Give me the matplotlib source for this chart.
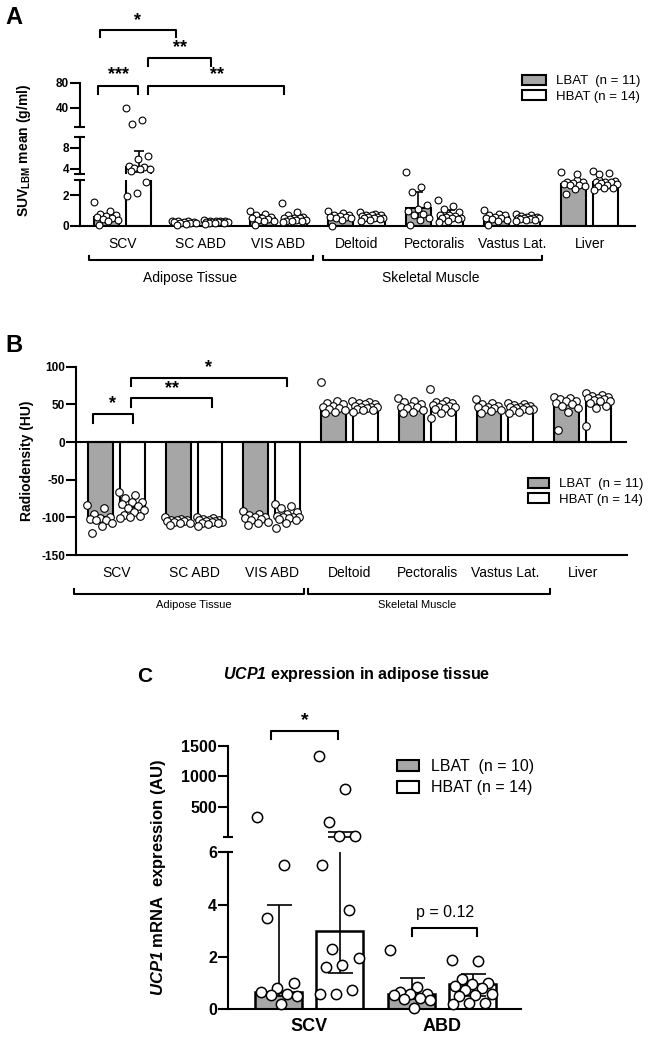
import numpy as np
import matplotlib.pyplot as plt
from matplotlib.patches import Patch
from matplotlib.transforms import blended_transform_factory

plt.rcParams['font.family'] = ['Liberation Sans', 'DejaVu Sans']
plt.rcParams['axes.unicode_minus'] = False
plt.rcParams['mathtext.fontset'] = 'custom'
plt.rcParams['mathtext.rm'] = 'Liberation Sans:bold'
plt.rcParams['mathtext.bf'] = 'Liberation Sans:bold'
plt.rcParams['mathtext.sf'] = 'Liberation Sans:italic:bold'

W, H = 663, 1045
GRAY = '#a6a6a6'

# --- Panel A: SUV_LBM mean (median + IQR) ---
tissues = ["SCV", "SC ABD", "VIS ABD", "Deltoid", "Pectoralis", "Vastus Lat.", "Liver"]
suv_lbat_med = [0.6, 0.25, 0.52, 0.6, 1.2, 0.58, 2.72]
suv_hbat_med = [4.3, 0.27, 0.55, 0.62, 0.62, 0.55, 2.85]
suv_lbat_q1 = [0.4, 0.2, 0.35, 0.5, 0.5, 0.4, 2.6]
suv_lbat_q3 = [0.8, 0.3, 0.7, 0.75, 2.25, 0.75, 2.9]
suv_hbat_q1 = [3.4, 0.22, 0.35, 0.5, 0.45, 0.45, 2.6]
suv_hbat_q3 = [7.4, 0.31, 0.6, 0.72, 1.05, 0.6, 2.95]
suv_lbat_pts = [
    [1.55, 0.95, 0.8, 0.75, 0.65, 0.6, 0.5, 0.45, 0.4, 0.3, 0.05],
    [0.35, 0.3, 0.3, 0.28, 0.25, 0.25, 0.22, 0.2, 0.18, 0.15, 0.05],
    [1.0, 0.8, 0.7, 0.6, 0.55, 0.5, 0.45, 0.4, 0.35, 0.3, 0.05],
    [0.95, 0.85, 0.75, 0.7, 0.65, 0.6, 0.6, 0.55, 0.5, 0.4, 0.0],
    [3.3, 2.55, 2.25, 1.35, 1.1, 1.0, 0.8, 0.7, 0.5, 0.4, 0.05],
    [1.05, 0.8, 0.75, 0.7, 0.6, 0.55, 0.5, 0.45, 0.4, 0.35, 0.05],
    [3.3, 3.0, 2.9, 2.85, 2.8, 2.75, 2.7, 2.65, 2.6, 2.4, 2.1],
]
suv_hbat_pts = [
    [40, 20, 15, 6.4, 5.8, 4.6, 4.4, 4.2, 4.0, 3.9, 3.6, 2.9, 2.15, 1.95],
    [0.4, 0.35, 0.32, 0.3, 0.3, 0.28, 0.27, 0.26, 0.25, 0.24, 0.22, 0.2, 0.18, 0.15],
    [1.5, 0.9, 0.7, 0.6, 0.55, 0.5, 0.5, 0.45, 0.4, 0.4, 0.35, 0.3, 0.3, 0.25],
    [0.9, 0.8, 0.75, 0.7, 0.7, 0.65, 0.6, 0.6, 0.55, 0.5, 0.5, 0.45, 0.4, 0.3],
    [1.7, 1.3, 1.1, 0.9, 0.75, 0.7, 0.65, 0.6, 0.55, 0.5, 0.5, 0.45, 0.3, 0.25],
    [0.8, 0.7, 0.65, 0.6, 0.6, 0.55, 0.55, 0.5, 0.5, 0.45, 0.45, 0.4, 0.4, 0.35],
    [3.5, 3.1, 3.0, 2.95, 2.9, 2.9, 2.85, 2.8, 2.75, 2.7, 2.6, 2.5, 2.45, 2.35],
]

# --- Panel B: radiodensity (HU) ---
hu_lbat_med = [-99, -103, -101, 41, 43, 44, 50]
hu_hbat_med = [-86, -104, -99, 41, 47, 43, 54]
hu_lbat_pts = [
    [-84, -88, -95, -100, -101, -102, -103, -104, -108, -112, -121],
    [-100, -102, -103, -104, -104, -105, -105, -106, -107, -108, -110],
    [-92, -95, -97, -99, -100, -101, -102, -104, -106, -108, -110],
    [80, 55, 52, 50, 48, 47, 45, 44, 42, 40, 38],
    [58, 55, 53, 50, 48, 47, 46, 45, 42, 40, 38],
    [57, 52, 50, 48, 47, 46, 45, 44, 43, 41, 38],
    [60, 58, 57, 55, 54, 52, 50, 48, 45, 40, 16],
]
hu_hbat_pts = [
    [-66, -70, -74, -79, -80, -82, -85, -88, -90, -93, -97, -98, -100, -101],
    [-99, -101, -102, -103, -104, -104, -105, -105, -106, -106, -107, -108, -109, -112],
    [-82, -85, -88, -93, -96, -98, -99, -100, -100, -101, -102, -104, -108, -114],
    [55, 53, 52, 50, 50, 48, 47, 46, 46, 45, 44, 43, 42, 40],
    [70, 55, 53, 52, 50, 49, 48, 47, 46, 45, 44, 40, 39, 32],
    [52, 50, 49, 48, 47, 46, 46, 45, 44, 44, 43, 42, 40, 38],
    [65, 62, 61, 60, 59, 58, 57, 56, 55, 54, 52, 48, 45, 21],
]

# --- Panel C: UCP1 expression (median + IQR) ---
ucp1_groups = ["SCV", "ABD"]
ucp1_lbat_med = [0.65, 0.57]
ucp1_hbat_med = [3.0, 0.95]
ucp1_lbat_q1 = [0.5, 0.4]
ucp1_lbat_q3 = [4.0, 1.18]
ucp1_hbat_q1 = [1.4, 0.5]
ucp1_hbat_q3 = [85, 1.34]
ucp1_lbat_pts = [
    [330, 5.5, 3.5, 1.0, 0.8, 0.65, 0.6, 0.55, 0.5, 0.2],
    [2.25, 0.85, 0.65, 0.6, 0.6, 0.55, 0.45, 0.4, 0.35, 0.05],
]
ucp1_hbat_pts = [
    [1340, 785, 255, 20, 15, 5.5, 3.8, 2.3, 1.95, 1.7, 1.6, 0.75, 0.6, 0.6],
    [1.9, 1.85, 1.15, 1.0, 0.95, 0.9, 0.8, 0.75, 0.6, 0.55, 0.5, 0.25, 0.25, 0.2],
]

fig = plt.figure(figsize=(W / 100, H / 100), dpi=100)


def fy(py):
    return 1 - py / H


def px_axes(left, top, right, bottom):
    return fig.add_axes([left / W, 1 - bottom / H, (right - left) / W, (bottom - top) / H])


def style_seg(ax, ticks, size, bottom=False, tick_len=7):
    for s in ['top', 'right']:
        ax.spines[s].set_visible(False)
    ax.spines['bottom'].set_visible(bottom)
    ax.spines['left'].set_linewidth(1.5)
    ax.spines['bottom'].set_linewidth(1.5)
    ax.set_yticks(ticks, labels=[str(t) for t in ticks], fontsize=size, fontweight='bold')
    ax.tick_params(axis='y', length=tick_len, width=1.5, pad=1)
    ax.tick_params(axis='x', length=0)
    ax.patch.set_alpha(0)
    if not bottom:
        ax.set_xticks([])


def break_mark(ax, yfrac, left_px, right_px, width_px):
    ax.plot([-left_px / width_px, right_px / width_px], [yfrac, yfrac],
            transform=ax.transAxes, color='black', lw=1.5, clip_on=False,
            solid_capstyle='butt')


def draw_bars(ax, x, med, q1, q3, pts, color, width, ms, mlw, blw, capsize, spread):
    ylo, yhi = ax.get_ylim()
    x = np.asarray(x, dtype=float)
    med = np.asarray(med, dtype=float)
    # only bars that reach into this segment (avoids stray edges at breaks)
    show = med > ylo if ylo >= 0 else np.ones(len(med), bool)
    ax.bar(x[show], med[show], width, color=color, edgecolor='black', linewidth=blw, zorder=2)
    if q1 is not None:
        q1 = np.asarray(q1, dtype=float)
        q3 = np.asarray(q3, dtype=float)
        sel = q3 > ylo
        ax.errorbar(x[sel], med[sel], yerr=[med[sel] - q1[sel], q3[sel] - med[sel]],
                    fmt='none', ecolor='black', elinewidth=1.2, capsize=capsize,
                    capthick=1.2, zorder=3)
    for xi, p in zip(x, pts):
        p = np.array(p, dtype=float)
        n = len(p)
        off = ((np.arange(n) * 0.618034) % 1 - 0.5) * spread
        keep = (p >= ylo) & (p <= yhi) if ylo > 0 else (p <= yhi)
        ax.scatter(xi + off[keep], p[keep], s=ms, facecolor='white', edgecolor='black',
                   linewidth=mlw, zorder=4, clip_on=False)


def bracket(ax, x0, x1, y_line, y_end, lw=1.5):
    tr = blended_transform_factory(ax.transData, fig.transFigure)
    ax.plot([x0, x0, x1, x1], [fy(y_end), fy(y_line), fy(y_line), fy(y_end)],
            transform=tr, color='black', lw=lw, clip_on=False)


def label_at(ax, x, py, text, size, weight='normal'):
    tr = blended_transform_factory(ax.transData, fig.transFigure)
    ax.text(x, fy(py), text, transform=tr, ha='center', va='center',
            fontsize=size, fontweight=weight, clip_on=False)


legend_handles = [Patch(facecolor=GRAY, edgecolor='black', linewidth=1.5),
                  Patch(facecolor='white', edgecolor='black', linewidth=1.5)]

# ================= Panel A =================
xa = np.arange(len(tissues))
off_a, wid_a = 0.205, 0.32
segs_a = [(180, 226, 0, 3, [0, 2]), (137, 174, 3, 10, [4, 8]), (82.7, 126.7, 10, 80, [40, 80])]
axes_a = []
for i, (top, bottom, lo, hi, ticks) in enumerate(segs_a):
    ax = px_axes(80, top, 635, bottom)
    ax.set_xlim(-0.55, 6.58)
    ax.set_ylim(lo, hi)
    style_seg(ax, ticks, 8.5, bottom=(i == 0))
    draw_bars(ax, xa - off_a, suv_lbat_med, suv_lbat_q1, suv_lbat_q3, suv_lbat_pts,
              GRAY, wid_a, 24, 0.8, 1.5, 3.5, wid_a)
    draw_bars(ax, xa + off_a, suv_hbat_med, suv_hbat_q1, suv_hbat_q3, suv_hbat_pts,
              'white', wid_a, 24, 0.8, 1.5, 3.5, wid_a)
    if i > 0:
        break_mark(ax, 0, 6, 5, 555)
    if i < 2:
        break_mark(ax, 1, 6, 5, 555)
    axes_a.append(ax)

axA = axes_a[0]
axA.set_xticks(xa, tissues, fontsize=10)
axA.tick_params(axis='x', length=0, pad=8)

bracket(axA, -0.43, 2.44, 260, 256)
bracket(axA, 2.57, 5.38, 260, 256)
label_at(axA, 0.86, 278, "Adipose Tissue", 10)
label_at(axA, 3.95, 278, "Skeletal Muscle", 10)

bracket(axA, -0.29, 0.68, 30, 37)
label_at(axA, 0.19, 21, "*", 13, 'bold')
bracket(axA, 0.32, 1.13, 58, 66)
label_at(axA, 0.74, 48, "**", 13, 'bold')
bracket(axA, -0.32, 0.19, 86, 94)
label_at(axA, -0.06, 75, "***", 13, 'bold')
bracket(axA, 0.32, 2.07, 86, 94)
label_at(axA, 1.21, 75, "**", 13, 'bold')

fig.text(24 / W, fy(150), r"SUV$_{\mathregular{LBM}}$ mean (g/ml)", rotation=90,
         ha='center', va='center', fontsize=10, fontweight='bold')
fig.text(5 / W, fy(17), "A", fontsize=17, fontweight='bold', ha='left', va='center')
fig.legend(legend_handles, ["LBAT  (n = 11)", "HBAT (n = 14)"], loc='upper left',
           bbox_to_anchor=(522 / W, fy(75)), frameon=False, fontsize=9.5,
           handlelength=1.8, handleheight=0.75, handletextpad=0.75,
           labelspacing=0.2, borderpad=0, borderaxespad=0)

# ================= Panel B =================
axB = px_axes(76, 366.7, 627, 555)
axB.set_xlim(-0.52, 6.57)
axB.set_ylim(-150, 100)
style_seg(axB, [-150, -100, -50, 0, 50, 100], 8.5, bottom=True)
axB.axhline(0, color='black', lw=1.5, zorder=5)
draw_bars(axB, xa - off_a, hu_lbat_med, None, None, hu_lbat_pts,
          GRAY, wid_a, 30, 0.8, 1.5, 3.5, wid_a * 1.05)
draw_bars(axB, xa + off_a, hu_hbat_med, None, None, hu_hbat_pts,
          'white', wid_a, 30, 0.8, 1.5, 3.5, wid_a * 1.05)
axB.set_xticks(xa, tissues, fontsize=10)
axB.tick_params(axis='x', length=0, pad=8)

bracket(axB, -0.55, 2.41, 594, 589)
bracket(axB, 2.47, 5.58, 594, 589)
label_at(axB, 0.99, 605, "Adipose Tissue", 8)
label_at(axB, 3.87, 605, "Skeletal Muscle", 8)

bracket(axB, -0.30, 0.21, 414, 423)
label_at(axB, -0.05, 404, "*", 13, 'bold')
bracket(axB, 0.19, 1.23, 398, 407)
label_at(axB, 0.71, 389, "**", 13, 'bold')
bracket(axB, 0.19, 2.2, 378, 386)
label_at(axB, 1.19, 368, "*", 13, 'bold')

fig.text(27 / W, fy(461), "Radiodensity (HU)", rotation=90,
         ha='center', va='center', fontsize=10, fontweight='bold')
fig.text(5 / W, fy(345), "B", fontsize=17, fontweight='bold', ha='left', va='center')
fig.legend(legend_handles, ["LBAT  (n = 11)", "HBAT (n = 14)"], loc='upper left',
           bbox_to_anchor=(528 / W, fy(478)), frameon=False, fontsize=9.5,
           handlelength=1.6, handleheight=0.75, handletextpad=0.75,
           labelspacing=0.2, borderpad=0, borderaxespad=0)

# ================= Panel C =================
xc = np.arange(len(ucp1_groups))
off_c, wid_c = 0.23, 0.355
segs_c = [(852.3, 1009.3, 0, 6, [0, 2, 4, 6]), (746, 836.7, 6, 1500, [500, 1000, 1500])]
axes_c = []
for i, (top, bottom, lo, hi, ticks) in enumerate(segs_c):
    ax = px_axes(228, top, 520.7, bottom)
    ax.set_xlim(-0.61, 1.59)
    ax.set_ylim(lo, hi)
    style_seg(ax, ticks, 11.5, bottom=(i == 0))
    draw_bars(ax, xc - off_c, ucp1_lbat_med, ucp1_lbat_q1, ucp1_lbat_q3, ucp1_lbat_pts,
              GRAY, wid_c, 55, 1.1, 1.8, 9, wid_c * 0.9)
    draw_bars(ax, xc + off_c, ucp1_hbat_med, ucp1_hbat_q1, ucp1_hbat_q3, ucp1_hbat_pts,
              'white', wid_c, 55, 1.1, 1.8, 9, wid_c * 0.9)
    if i == 0:
        break_mark(ax, 1, 7, 5, 292.7)
    else:
        break_mark(ax, 0, 5, 5, 292.7)
    axes_c.append(ax)

axC = axes_c[0]
axC.set_xticks(xc, ucp1_groups, fontsize=13, fontweight='bold')
axC.tick_params(axis='x', length=0, pad=6)

bracket(axC, -0.29, 0.22, 731, 739)
label_at(axC, -0.035, 721, "*", 14, 'bold')
bracket(axC, 0.77, 1.26, 928, 936)
label_at(axC, 1.02, 913, "p = 0.12", 11.5)

fig.text(159 / W, fy(877), r"$\mathsf{UCP1}$ mRNA  expression (AU)", rotation=90,
         ha='center', va='center', fontsize=12, fontweight='bold')
fig.text(357 / W, fy(675), r"$\mathsf{UCP1}$ expression in adipose tissue",
         ha='center', va='center', fontsize=11.5, fontweight='bold')
fig.text(137 / W, fy(676), "C", fontsize=15, fontweight='bold', ha='left', va='center')
fig.legend(legend_handles, ["LBAT  (n = 10)", "HBAT (n = 14)"], loc='upper left',
           bbox_to_anchor=(397 / W, fy(759)), frameon=False, fontsize=11.5,
           handlelength=1.4, handleheight=0.75, handletextpad=0.75,
           labelspacing=0.4, borderpad=0, borderaxespad=0)

fig.savefig("out.png", dpi=100)
